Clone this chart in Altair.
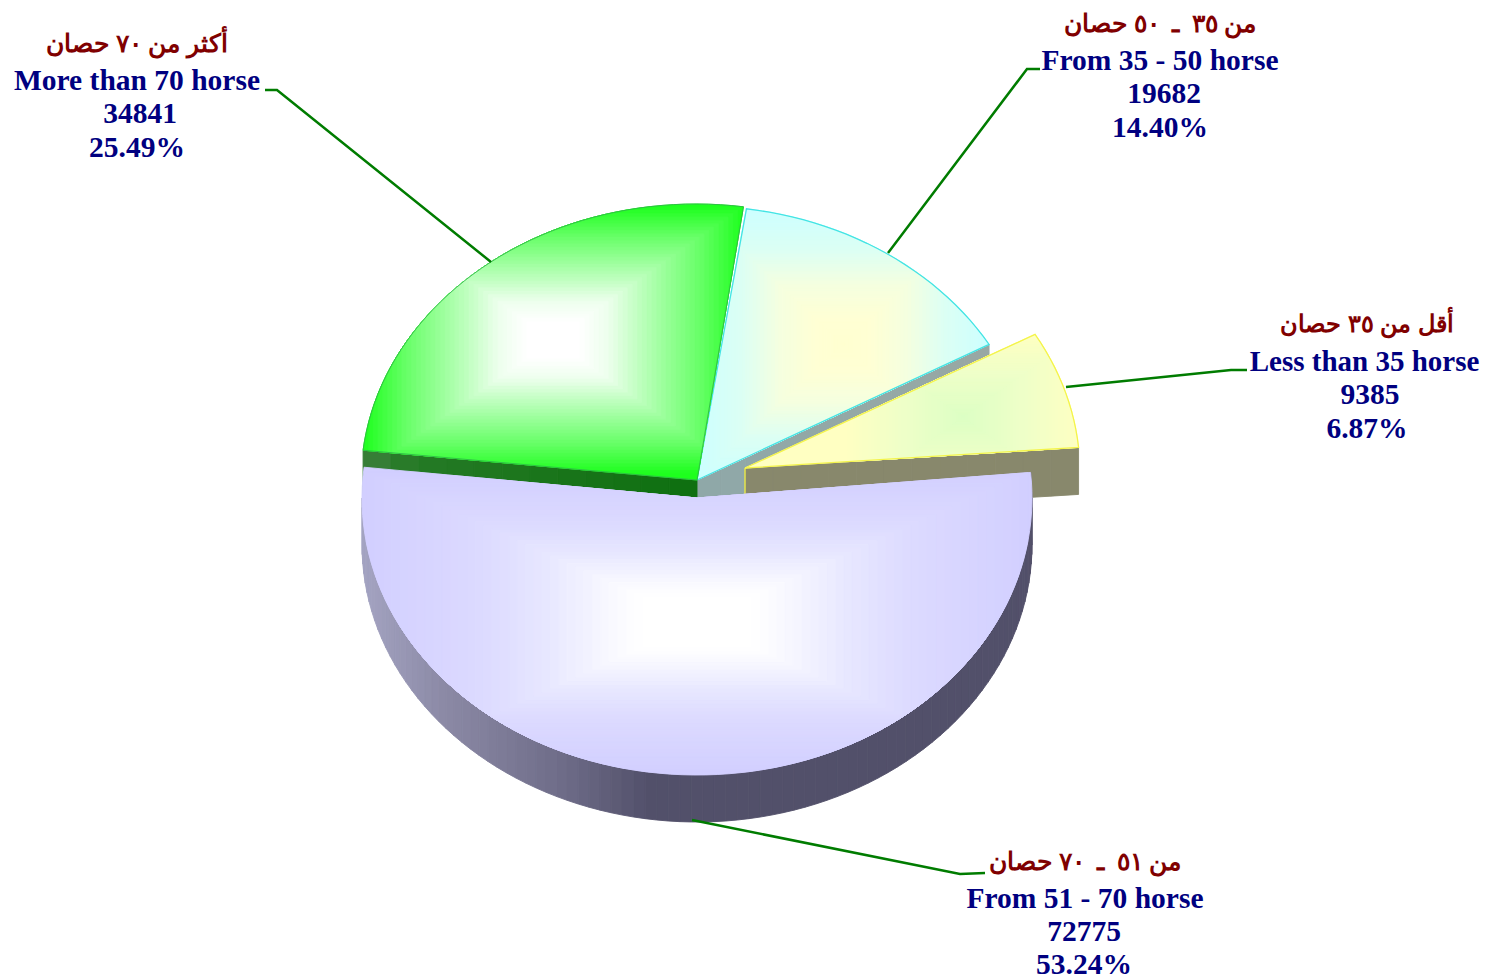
import math
import altair as alt
import pandas as pd

alt.data_transformers.disable_max_rows()

# ---- chart values ----
english = ["Less than 35 horse", "From 35 - 50 horse", "More than 70 horse", "From 51 - 70 horse"]
arabic = ["أقل من ٣٥ حصان", "من ٣٥\u2002ـ\u2002٥٠ حصان", "أكثر من ٧٠ حصان", "من ٥١\u2002ـ\u2002٧٠ حصان"]
counts = [9385, 19682, 34841, 72775]
shares = ["6.87%", "14.40%", "25.49%", "53.24%"]

# ---- drawing set-up (page pixels) ----
W, H = 1472, 963
RX, RY, DEPTH = 335, 277, 47
START = 5.3
ORDER = [1, 2, 0, 3]   # back to front
LEVELS = 40

apex = {0: (745, 468), 1: (697, 480), 2: (697, 480), 3: (697, 498)}
rimc = {0: (745, 473), 1: (699, 483), 2: (696, 481), 3: (697, 498)}
box = {0: (963, 417, 120, 85), 1: (843, 344, 147, 136), 2: (553, 340, 192, 135), 3: (697, 622, 335, 152)}
ramp = {
    0: [(0, "#DCFFC4"), (.5, "#EEFFC8"), (1, "#FFFFC2")],
    1: [(0, "#FFFFD0"), (.2, "#FFFFD4"), (.45, "#F4FFE0"), (.7, "#DCFFF4"), (1, "#CCFFFF")],
    2: [(0, "#FFFFFF"), (.15, "#FFFFFF"), (.3, "#ECFFEC"), (.5, "#B4FFB4"), (.78, "#66FF66"), (1, "#1EFF1E")],
    3: [(0, "#FFFFFF"), (.18, "#FFFFFF"), (.3, "#F6F6FF"), (.45, "#E8E8FF"), (.65, "#DCDAFF"), (1, "#D2CFFF")],
}
side = {
    0: [(0, "#88886C"), (1, "#88886C")],
    1: [(0, "#8FA8A8"), (1, "#98A8A4")],
    2: [(0, "#3C803C"), (.15, "#257A25"), (1, "#0E7010")],
    3: [(0, "#A4A4C2"), (.13, "#8A88A4"), (.3, "#6E6C88"), (.43, "#52506A"), (1, "#52506A")],
}
edge = {0: ("#F4F44A", 1.3), 1: ("#44E4E4", 1.3), 2: ("#30B848", 0.9)}


def hex2rgb(h):
    return [int(h[i:i + 2], 16) for i in (1, 3, 5)]


def blend(stops, t):
    t = min(max(t, 0), 1)
    for (a, ca), (b, cb) in zip(stops, stops[1:]):
        if t <= b:
            f = (t - a) / (b - a) if b > a else 0
            ra, rb = hex2rgb(ca), hex2rgb(cb)
            return "#%02X%02X%02X" % tuple(round(p + (q - p) * f) for p, q in zip(ra, rb))
    return stops[-1][1]


def rim(k, a):
    cx, cy = rimc[k]
    r = math.radians(a)
    return cx + RX * math.cos(r), cy - RY * math.sin(r)


total = sum(counts)
angles = {}
a0 = START
for k, v in enumerate(counts):
    a1 = a0 + 360 * v / total
    angles[k] = (a0, a1)
    a0 = a1


def arc_pts(k, a, b, step=2.0):
    n = max(2, int(abs(b - a) / step) + 1)
    return [rim(k, a + (b - a) * i / n) for i in range(n + 1)]


def sector(k):
    a, b = angles[k]
    return [apex[k]] + arc_pts(k, a, b)


def clip(poly, inside, cross):
    out = []
    for i, p in enumerate(poly):
        q = poly[(i + 1) % len(poly)]
        ip, iq = inside(p), inside(q)
        if ip:
            out.append(p)
        if ip != iq:
            out.append(cross(p, q))
    return out


def clip_box(poly, x0, x1, y0, y1):
    def cx(v):
        return lambda p, q: (v, p[1] + (q[1] - p[1]) * (v - p[0]) / (q[0] - p[0]))

    def cy(v):
        return lambda p, q: (p[0] + (q[0] - p[0]) * (v - p[1]) / (q[1] - p[1]), v)

    for inside, cross in [
        (lambda p: p[0] >= x0, cx(x0)), (lambda p: p[0] <= x1, cx(x1)),
        (lambda p: p[1] >= y0, cy(y0)), (lambda p: p[1] <= y1, cy(y1)),
    ]:
        if not poly:
            return poly
        poly = clip(poly, inside, cross)
    return poly


rows = []
pid = 0


def add(poly, color, stroke=None, w=0.9, closed=True):
    global pid
    if len(poly) < 2:
        return
    pid += 1
    pts = list(poly) + ([poly[0]] if closed else [])
    for i, (x, y) in enumerate(pts):
        rows.append({"id": pid, "i": i, "x": round(x, 2), "y": round(y, 2),
                     "c": color, "s": stroke or color, "w": w})


def add_strips(k, pts_top):
    """vertical side wall below a rim/edge, shaded by position along x"""
    xs = [p[0] for p in pts_top]
    lo, hi = min(xs), max(xs)
    for p, q in zip(pts_top, pts_top[1:]):
        t = ((p[0] + q[0]) / 2 - lo) / (hi - lo) if hi > lo else 0
        add([p, q, (q[0], q[1] + DEPTH), (p[0], p[1] + DEPTH)], blend(side[k], t))


def fine(p, q, n=12):
    return [(p[0] + (q[0] - p[0]) * i / n, p[1] + (q[1] - p[1]) * i / n) for i in range(n + 1)]


for k in ORDER:
    a, b = angles[k]
    # side walls
    if k == 3:
        add_strips(k, arc_pts(k, 180, 360, 2.0) + [rim(k, b)])
    elif k in (0, 1):
        add_strips(k, fine(apex[k], rim(k, a)))
    else:
        add_strips(k, fine(rim(k, b), apex[k]))
    # top surface: boxes shrinking round the highlight
    s = sector(k)
    cx, cy, hw, hh = box[k]
    add(s, blend(ramp[k], 1))
    for n in range(LEVELS - 1, -1, -1):
        t = (n + 0.5) / LEVELS
        c = blend(ramp[k], t)
        add(clip_box(s, cx - hw * t, cx + hw * t, cy - hh * t, cy + hh * t), c, w=0.5)
    # outlines
    if k != 3:
        add(s, "none", stroke=edge[k][0], w=edge[k][1])
    if k == 0:
        ax, ay = apex[k]
        add([(ax, ay), (ax, ay + 27)], "none", stroke=edge[k][0], w=edge[k][1], closed=False)

df = pd.DataFrame(rows)

xs = alt.Scale(domain=[8, 8 + W], nice=False, zero=False)
ys = alt.Scale(domain=[8 + H, 8], nice=False, zero=False)
X = alt.X("x:Q", scale=xs, axis=None)
Y = alt.Y("y:Q", scale=ys, axis=None)

shapes = alt.Chart(df).mark_line(clip=False).encode(
    x=X, y=Y,
    detail="id:N",
    order=alt.Order("i:Q"),
    fill=alt.Fill("c:N", scale=None),
    stroke=alt.Stroke("s:N", scale=None),
    strokeWidth=alt.StrokeWidth("w:Q", scale=None),
)

leader_paths = [
    [(1247, 370), (1231, 370), (1066, 387)],
    [(1040, 69), (1027, 69), (888, 253)],
    [(265, 90), (277, 90), (491, 262)],
    [(985, 873), (960, 874), (692, 820)],
]
lead = pd.DataFrame([
    {"id": k, "i": i, "x": x, "y": y}
    for k, path in enumerate(leader_paths) for i, (x, y) in enumerate(path)
])
leaders = alt.Chart(lead).mark_line(color="#007C00", strokeWidth=2.5).encode(
    x=X, y=Y, detail="id:N", order=alt.Order("i:Q")
)

# label block anchors: x of the arabic/english lines, and y of each of the four lines
label_pos = {
    0: (1367, 1370, 1367, [325, 362, 395, 429]),
    1: (1160, 1164, 1160, [24, 61, 94, 128]),
    2: (137, 140, 137, [44, 81, 114, 148]),
    3: (1085, 1084, 1084, [862, 899, 932, 965]),
}
ar_rows, en_rows = [], []
for k in range(4):
    x0, x1, x2, yy = label_pos[k]
    ar_rows.append({"x": x0, "y": yy[0], "t": arabic[k], "fs": 24 if k == 0 else 25})
    # the right-hand label has to stay inside the page width
    if k == 0:
        en_rows.append({"x": 1364.5, "y": yy[1], "t": english[k], "fs": 29})
    else:
        en_rows.append({"x": x0, "y": yy[1], "t": english[k], "fs": 29.5})
    en_rows.append({"x": x1, "y": yy[2], "t": str(counts[k]), "fs": 29.5})
    en_rows.append({"x": x2, "y": yy[3], "t": shares[k], "fs": 29.5})

ar_text = alt.Chart(pd.DataFrame(ar_rows)).mark_text(
    font="Liberation Sans", fontWeight="bold", color="#800000",
    align="center", baseline="middle",
).encode(x=X, y=Y, text="t:N", size=alt.Size("fs:Q", scale=None))
en_text = alt.Chart(pd.DataFrame(en_rows)).mark_text(
    font="Liberation Serif", fontWeight="bold", color="#000080",
    align="center", baseline="middle",
).encode(x=X, y=Y, text="t:N", size=alt.Size("fs:Q", scale=None))

chart = alt.layer(shapes, leaders, ar_text, en_text).properties(
    width=W, height=H,
    padding={"left": 0, "top": 0, "right": 0, "bottom": 8},
    autosize=alt.AutoSizeParams(type="none"),
    background="white",
).configure_view(stroke=None)

chart.save("out.html", embed_options={"renderer": "svg", "actions": False})
